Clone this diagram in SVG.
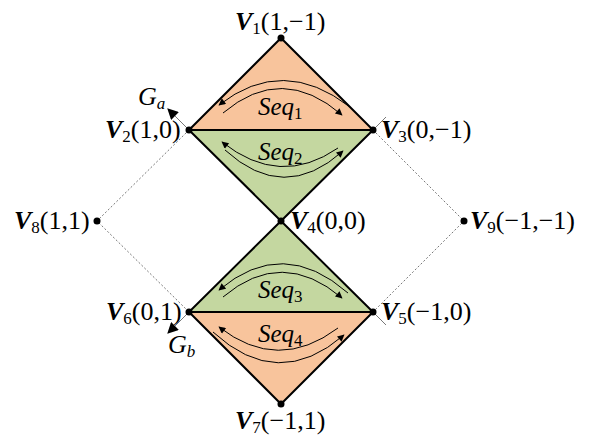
<svg xmlns="http://www.w3.org/2000/svg" width="589" height="437" viewBox="0 0 589 437">
<style>
.edge{stroke:#000;stroke-width:2;fill:none;stroke-linejoin:miter}
.dot{stroke:#555;stroke-width:0.8;stroke-dasharray:2,2;fill:none}
.thin{stroke:#555;stroke-width:0.8;fill:none}
.arc{stroke:#000;stroke-width:1;fill:none}
.lbl{font-family:"Liberation Serif","Times New Roman",serif;font-size:26px;fill:#000}
.v{font-weight:bold;font-style:italic}
.it{font-style:italic}
.seq{font-family:"Liberation Serif","Times New Roman",serif;font-size:25px;font-style:italic;fill:#000}
</style>
<defs>
<marker id="ah" viewBox="0 0 10 10" refX="9" refY="5" markerWidth="9" markerHeight="7" markerUnits="userSpaceOnUse" orient="auto-start-reverse"><path d="M0,0 L10,5 L0,10 Z" fill="#000"/></marker>
<marker id="big" viewBox="0 0 10 10" refX="9" refY="5" markerWidth="13" markerHeight="11" markerUnits="userSpaceOnUse" orient="auto"><path d="M0,0 L10,5 L0,10 Z" fill="#000"/></marker>
</defs>
<g id="faces">
<polygon points="281,38 373,130 189,130" fill="#F8C49C"/>
<polygon points="189,130 373,130 281,221" fill="#C4D7A0"/>
<polygon points="281,221 373,312 189,312" fill="#C4D7A0"/>
<polygon points="189,312 373,312 281,404" fill="#F8C49C"/>
</g>
<g id="connectors">
<path class="edge" d="M189,130 L281,38 L373,130 Z"/>
<path class="edge" d="M189,130 L281,221 L373,130"/>
<path class="edge" d="M281,221 L373,312 L189,312 Z"/>
<path class="edge" d="M189,312 L281,404 L373,312"/>
<path class="dot" d="M189,130 L97,221 L189,312"/>
<path class="dot" d="M373,130 L464,221 L373,312"/>
<path class="thin" d="M373,130 L386,117"/>
<path class="thin" d="M373,312 L386,325"/>
<path class="thin" d="M189,130 L168,109" marker-end="url(#big)"/>
<path class="thin" d="M189,312 L168,333" marker-end="url(#big)"/>
<path class="arc" d="M219,105 Q283,55 350,107" marker-start="url(#ah)"/>
<path class="arc" d="M223,113 Q282,63 342,115" marker-end="url(#ah)"/>
<path class="arc" d="M222,142 Q280,188 338,148" marker-start="url(#ah)"/>
<path class="arc" d="M225,150 Q284,204 343,151" marker-end="url(#ah)"/>
<path class="arc" d="M219,290 Q283,236 348,293" marker-start="url(#ah)"/>
<path class="arc" d="M223,297 Q282,247 342,298" marker-end="url(#ah)"/>
<path class="arc" d="M219,327 Q278,373 338,328" marker-start="url(#ah)"/>
<path class="arc" d="M213,332 Q278,392 344,335" marker-end="url(#ah)"/>
</g>
<g id="seq1"><text class="seq" x="258" y="115">Seq<tspan font-size="17" font-style="normal" dy="4">1</tspan></text></g>
<g id="seq2"><text class="seq" x="258" y="160">Seq<tspan font-size="17" font-style="normal" dy="4">2</tspan></text></g>
<g id="seq3"><text class="seq" x="258" y="298">Seq<tspan font-size="17" font-style="normal" dy="4">3</tspan></text></g>
<g id="seq4"><text class="seq" x="258" y="342">Seq<tspan font-size="17" font-style="normal" dy="4">4</tspan></text></g>
<g id="V1"><circle cx="281" cy="38" r="3.5"/><text class="lbl" x="235" y="30"><tspan class="v">V</tspan><tspan font-size="17" dy="4">1</tspan><tspan dy="-4">(1,−1)</tspan></text></g>
<g id="V2"><circle cx="189" cy="130" r="3.5"/><text class="lbl" x="105" y="138"><tspan class="v">V</tspan><tspan font-size="17" dy="4">2</tspan><tspan dy="-4">(1,0)</tspan></text></g>
<g id="V3"><circle cx="373" cy="130" r="3.5"/><text class="lbl" x="381" y="138"><tspan class="v">V</tspan><tspan font-size="17" dy="4">3</tspan><tspan dy="-4">(0,−1)</tspan></text></g>
<g id="V4"><circle cx="281" cy="221" r="3.5"/><text class="lbl" x="290" y="229"><tspan class="v">V</tspan><tspan font-size="17" dy="4">4</tspan><tspan dy="-4">(0,0)</tspan></text></g>
<g id="V5"><circle cx="373" cy="312" r="3.5"/><text class="lbl" x="381" y="320"><tspan class="v">V</tspan><tspan font-size="17" dy="4">5</tspan><tspan dy="-4">(−1,0)</tspan></text></g>
<g id="V6"><circle cx="189" cy="312" r="3.5"/><text class="lbl" x="106" y="320"><tspan class="v">V</tspan><tspan font-size="17" dy="4">6</tspan><tspan dy="-4">(0,1)</tspan></text></g>
<g id="V7"><circle cx="281" cy="404" r="3.5"/><text class="lbl" x="235" y="429"><tspan class="v">V</tspan><tspan font-size="17" dy="4">7</tspan><tspan dy="-4">(−1,1)</tspan></text></g>
<g id="V8"><circle cx="97" cy="221" r="3.5"/><text class="lbl" x="14" y="229"><tspan class="v">V</tspan><tspan font-size="17" dy="4">8</tspan><tspan dy="-4">(1,1)</tspan></text></g>
<g id="V9"><circle cx="464" cy="221" r="3.5"/><text class="lbl" x="470" y="229"><tspan class="v">V</tspan><tspan font-size="17" dy="4">9</tspan><tspan dy="-4">(−1,−1)</tspan></text></g>
<g id="Ga"><text class="lbl it" x="138" y="105">G<tspan font-size="17" dy="4">a</tspan></text></g>
<g id="Gb"><text class="lbl it" x="168" y="353">G<tspan font-size="17" dy="4">b</tspan></text></g>
</svg>
